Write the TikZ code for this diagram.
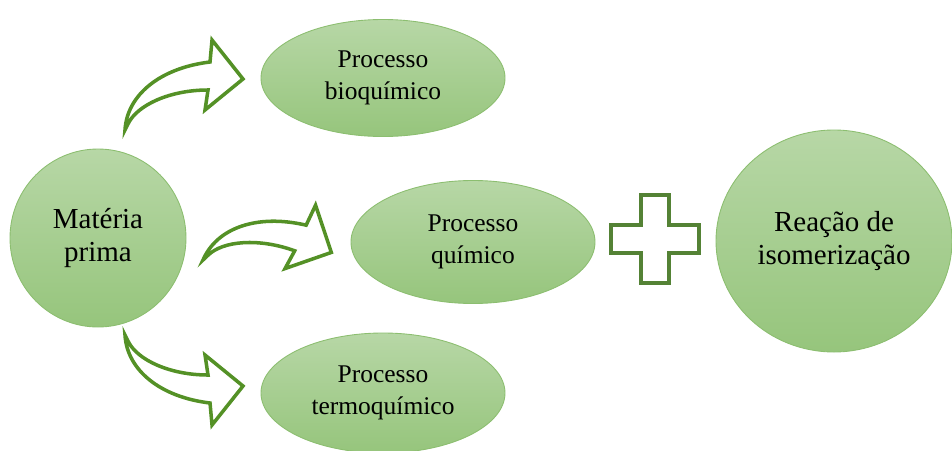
\documentclass[tikz,border=0pt]{standalone}
\usepackage{fontspec}
\setmainfont{Liberation Serif}
\usetikzlibrary{shapes.geometric}
\definecolor{fillTop}{RGB}{183,215,166}
\definecolor{fillBot}{RGB}{150,197,124}
\definecolor{edgeGreen}{RGB}{140,190,112}
\definecolor{arrowGreen}{RGB}{84,145,38}
\definecolor{plusGreen}{RGB}{84,130,53}
\tikzset{
  blob/.style={ellipse, draw=edgeGreen, line width=0.5pt, top color=fillTop, bottom color=fillBot, align=center, inner sep=0pt},
  proc/.style={blob, minimum width=4.88cm, minimum height=2.34cm, font=\fontsize{14.5}{18}\selectfont},
  big/.style={blob, font=\fontsize{16.5}{19}\selectfont},
  bend/.pic={\draw[arrowGreen, line width=2pt, fill=white, line join=miter, x=0.02cm, y=0.02cm]
    (0,0) .. controls (2,35) and (35,62) .. (85,68) -- (87,90) -- (118,51) -- (80,20) -- (83,40)
    .. controls (45,40) and (12,25) .. (3,6) -- cycle;}
}
\begin{document}
\begin{tikzpicture}
        \clip (0,0) rectangle (19.04,-9);

        \node[big, minimum width=3.52cm, minimum height=3.56cm] (M1) at (1.96,-4.76) {Matéria\\prima};

        \node[proc] (P1) at (7.66,-1.56) {Processo\\bioquímico};
        \node[proc, minimum height=2.46cm] (P2) at (9.46,-4.84) {Processo\\químico};
        \node[proc, minimum height=2.4cm] (P3) at (7.66,-7.86) {Processo\\termoquímico};

        \node[big, minimum width=4.72cm, minimum height=4.44cm] (R1) at (16.68,-4.82) {Reação de\\isomerização};

        \pic at (2.5,-2.6) {bend};
        \pic[rotate=-20] at (4.06,-5.2) {bend};
        \pic[yscale=-1] at (2.5,-6.7) {bend};

        \coordinate (S1) at (13.1,-4.78);
        \draw[plusGreen, line width=2.8pt, fill=white, line join=miter] ([shift={(-0.28,0.88)}]S1)
          -- ++(0.56,0) -- ++(0,-0.6) -- ++(0.6,0) -- ++(0,-0.56) -- ++(-0.6,0) -- ++(0,-0.6)
          -- ++(-0.56,0) -- ++(0,0.6) -- ++(-0.6,0) -- ++(0,0.56) -- ++(0.6,0) -- cycle;
    \end{tikzpicture}
\end{document}
